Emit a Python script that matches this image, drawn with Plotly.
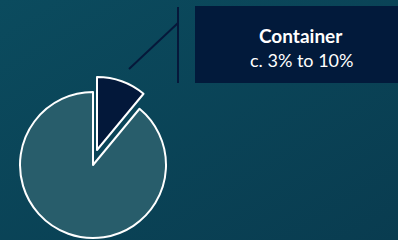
import plotly.graph_objects as go

# Data
labels = ["Container", "Other"]
values = [11, 89]
callout_title = "Container"
callout_text = "c. 3% to 10%"

W, H = 398, 240
BG_SVG = (
    "data:image/svg+xml;utf8,"
    "<svg xmlns='http://www.w3.org/2000/svg' width='398' height='240'>"
    "<defs><linearGradient id='g' x1='0' y1='0' x2='1' y2='1'>"
    "<stop offset='0' stop-color='%230b4b5e'/>"
    "<stop offset='1' stop-color='%23093c50'/>"
    "</linearGradient></defs>"
    "<rect width='398' height='240' fill='url(%23g)'/></svg>"
)

main_col = "#285d6b"
small_col = "#03183a"
clear = "rgba(0,0,0,0)"


def px_dom(cx, cy, r):
    return dict(x=[(cx - r) / W, (cx + r) / W], y=[1 - (cy + r) / H, 1 - (cy - r) / H])


fig = go.Figure()
# main (large) slice
fig.add_trace(go.Pie(
    labels=labels, values=values, sort=False, direction="clockwise", rotation=0,
    marker=dict(colors=[clear, main_col], line=dict(color=[clear, "white"], width=2)),
    textinfo="none", hoverinfo="label+percent", showlegend=False,
    domain=px_dom(93, 165, 73),
))
# exploded (small) slice
fig.add_trace(go.Pie(
    labels=labels, values=values, sort=False, direction="clockwise", rotation=0,
    marker=dict(colors=[small_col, clear], line=dict(color=["white", clear], width=2)),
    textinfo="none", hoverinfo="label+percent", showlegend=False,
    domain=px_dom(97, 150, 73),
))

shapes = [
    dict(type="rect", xref="paper", yref="paper", x0=195 / W, x1=1.02, y0=1 - 83 / H, y1=1 - 6 / H,
         fillcolor="#021a3b", line=dict(width=0), layer="below"),
    dict(type="line", xref="paper", yref="paper", x0=129 / W, y0=1 - 69 / H, x1=178 / W, y1=1 - 23 / H,
         line=dict(color="#06183a", width=2)),
    dict(type="line", xref="paper", yref="paper", x0=178 / W, y0=1 - 7 / H, x1=178 / W, y1=1 - 83 / H,
         line=dict(color="#06183a", width=2)),
]

annotations = [
    dict(text=f"<b>{callout_title}</b>", x=301 / W, y=1 - 35 / H, xref="paper", yref="paper",
         showarrow=False, xanchor="center", yanchor="middle",
         font=dict(family="Lato", size=19, color="white")),
    dict(text=callout_text, x=301 / W, y=1 - 60 / H, xref="paper", yref="paper",
         showarrow=False, xanchor="center", yanchor="middle",
         font=dict(family="Lato", size=18, color="white")),
]

fig.update_layout(
    width=W, height=H, margin=dict(l=0, r=0, t=0, b=0),
    paper_bgcolor="#0a445a", plot_bgcolor="rgba(0,0,0,0)",
    images=[dict(source=BG_SVG, xref="paper", yref="paper", x=0, y=1, sizex=1, sizey=1,
                 xanchor="left", yanchor="top", sizing="stretch", layer="below")],
    shapes=shapes, annotations=annotations,
)
fig.write_html(
    "out.html",
    config={"displayModeBar": False},
    post_script="document.body.style.margin='0';document.body.style.overflow='hidden';",
)
